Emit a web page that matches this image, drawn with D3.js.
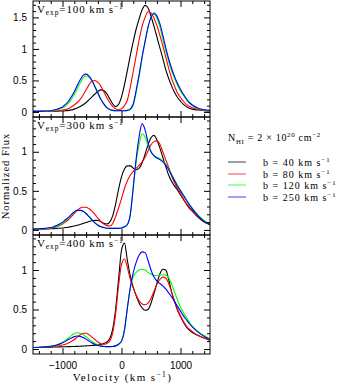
<!DOCTYPE html>
<html>
<head>
<meta charset="utf-8">
<script src="https://cdn.jsdelivr.net/npm/d3@7"></script>
<style>
body { margin: 0; background: #fff; }
svg { display: block; }
</style>
</head>
<body>
<div id="chart"></div>
<script>
// velocity grid (km s^-1), shared by every curve
var velocity = [-1500, -1400, -1300,
    -1200, -1150, -1100, -1050, -1000,
    -950, -900, -850, -800, -750, -700, -650, -600, -550, -500,
    -450, -400, -350, -300, -250, -200, -150, -100, -50, 0,
    50, 100, 150, 200, 250, 300, 350, 400, 450, 500,
    550, 600, 650, 700, 750, 800, 850, 900, 950, 1000,
    1050, 1100, 1150, 1200,
    1300, 1400, 1500];

// Vexp = 100 km/s
var v100b40 = [0.01, 0.01, 0.01,
    0.01, 0.01, 0.012, 0.014, 0.016,
    0.02, 0.025, 0.033, 0.045, 0.062, 0.085, 0.115, 0.15, 0.195, 0.24,
    0.285, 0.325, 0.35, 0.34, 0.29, 0.21, 0.13, 0.085, 0.12, 0.24,
    0.43, 0.66, 0.9, 1.12, 1.32, 1.48, 1.62, 1.69, 1.65, 1.52,
    1.36, 1.19, 1.02, 0.85, 0.67, 0.53, 0.41, 0.31, 0.23, 0.17,
    0.12, 0.085, 0.06, 0.045,
    0.03, 0.02, 0.015];
var v100b80 = [0.01, 0.01, 0.01,
    0.01, 0.012, 0.015, 0.02, 0.03,
    0.04, 0.055, 0.08, 0.11, 0.15, 0.2, 0.27, 0.35, 0.43, 0.49,
    0.5, 0.47, 0.41, 0.32, 0.23, 0.15, 0.09, 0.05, 0.035, 0.05,
    0.1, 0.19, 0.4, 0.65, 0.9, 1.15, 1.36, 1.5, 1.59, 1.57,
    1.49, 1.37, 1.22, 1.05, 0.87, 0.69, 0.53, 0.41, 0.3, 0.23,
    0.17, 0.12, 0.09, 0.065,
    0.04, 0.025, 0.02];
var v100b120 = [0.01, 0.01, 0.012,
    0.015, 0.02, 0.03, 0.045, 0.065,
    0.095, 0.14, 0.2, 0.28, 0.37, 0.46, 0.54, 0.57, 0.55, 0.49,
    0.4, 0.3, 0.2, 0.12, 0.07, 0.04, 0.025, 0.02, 0.02, 0.02,
    0.02, 0.025, 0.04, 0.11, 0.32, 0.57, 0.86, 1.12, 1.34, 1.5,
    1.55, 1.49, 1.35, 1.16, 0.97, 0.8, 0.65, 0.53, 0.42, 0.33,
    0.26, 0.19, 0.14, 0.1,
    0.05, 0.03, 0.02];
var v100b250 = [0.01, 0.01, 0.015,
    0.02, 0.03, 0.04, 0.06, 0.08,
    0.12, 0.17, 0.24, 0.32, 0.42, 0.51, 0.58, 0.6, 0.57, 0.5,
    0.4, 0.3, 0.2, 0.13, 0.07, 0.04, 0.025, 0.02, 0.02, 0.02,
    0.02, 0.025, 0.05, 0.13, 0.35, 0.6, 0.88, 1.12, 1.35, 1.5,
    1.57, 1.52, 1.4, 1.22, 1.02, 0.84, 0.69, 0.56, 0.45, 0.36,
    0.28, 0.21, 0.15, 0.11,
    0.06, 0.035, 0.025];

// Vexp = 300 km/s
var v300b40 = [0.01, 0.01, 0.012,
    0.015, 0.017, 0.02, 0.022, 0.025,
    0.03, 0.035, 0.042, 0.05, 0.06, 0.07, 0.082, 0.095, 0.108, 0.117,
    0.122, 0.12, 0.105, 0.085, 0.075, 0.1, 0.18, 0.33, 0.52, 0.68,
    0.78, 0.82, 0.82, 0.79, 0.77, 0.79, 0.86, 0.97, 1.09, 1.18,
    1.21, 1.15, 1.05, 0.93, 0.81, 0.7, 0.62, 0.56, 0.51, 0.45,
    0.39, 0.33, 0.28, 0.24,
    0.16, 0.1, 0.065];
var v300b80 = [0.01, 0.012, 0.015,
    0.02, 0.03, 0.04, 0.055, 0.075,
    0.1, 0.13, 0.17, 0.21, 0.25, 0.28, 0.29, 0.29, 0.27, 0.24,
    0.2, 0.15, 0.11, 0.075, 0.055, 0.05, 0.08, 0.17, 0.28, 0.4,
    0.53, 0.63, 0.7, 0.75, 0.79, 0.83, 0.87, 0.93, 1.01, 1.09,
    1.13, 1.14, 1.1, 1.0, 0.9, 0.8, 0.69, 0.6, 0.53, 0.47,
    0.4, 0.34, 0.29, 0.25,
    0.17, 0.11, 0.07];
var v300b120 = [0.01, 0.012, 0.017,
    0.025, 0.033, 0.045, 0.063, 0.085,
    0.115, 0.15, 0.19, 0.225, 0.245, 0.25, 0.24, 0.21, 0.17, 0.13,
    0.09, 0.06, 0.04, 0.03, 0.022, 0.02, 0.02, 0.02, 0.02, 0.025,
    0.04, 0.07, 0.2, 0.55, 0.88, 1.1, 1.23, 1.19, 1.08, 1.0,
    0.95, 0.93, 0.91, 0.88, 0.84, 0.78, 0.71, 0.64, 0.57, 0.51,
    0.45, 0.39, 0.33, 0.28,
    0.19, 0.12, 0.075];
var v300b250 = [0.01, 0.015, 0.02,
    0.03, 0.04, 0.055, 0.075, 0.1,
    0.13, 0.16, 0.2, 0.23, 0.25, 0.25, 0.24, 0.21, 0.17, 0.13,
    0.09, 0.06, 0.04, 0.03, 0.022, 0.02, 0.02, 0.02, 0.02, 0.025,
    0.04, 0.07, 0.2, 0.55, 0.92, 1.2, 1.36, 1.28, 1.12, 1.0,
    0.95, 0.92, 0.9, 0.87, 0.83, 0.77, 0.7, 0.63, 0.56, 0.5,
    0.44, 0.38, 0.32, 0.27,
    0.18, 0.11, 0.07];

// Vexp = 400 km/s
var v400b40 = [0.02, 0.02, 0.022,
    0.024, 0.025, 0.026, 0.027, 0.028,
    0.029, 0.03, 0.031, 0.032, 0.034, 0.036, 0.038, 0.04, 0.042, 0.045,
    0.048, 0.052, 0.058, 0.07, 0.09, 0.13, 0.25, 0.5, 0.88, 1.25,
    1.34, 1.12, 0.92, 0.78, 0.67, 0.58, 0.52, 0.49, 0.5, 0.58,
    0.7, 0.83, 0.95, 1.01, 1.0, 0.88, 0.72, 0.6, 0.49, 0.41,
    0.34, 0.28, 0.24, 0.21,
    0.17, 0.14, 0.11];
var v400b80 = [0.02, 0.02, 0.025,
    0.03, 0.033, 0.037, 0.042, 0.05,
    0.06, 0.075, 0.095, 0.12, 0.15, 0.18, 0.2, 0.2, 0.18, 0.15,
    0.12, 0.09, 0.065, 0.06, 0.07, 0.1, 0.2, 0.44, 0.8, 1.07,
    1.14, 1.03, 0.88, 0.77, 0.68, 0.61, 0.57, 0.56, 0.58, 0.64,
    0.73, 0.82, 0.88, 0.91, 0.9, 0.83, 0.72, 0.6, 0.5, 0.42,
    0.35, 0.29, 0.25, 0.22,
    0.17, 0.14, 0.11];
var v400b120 = [0.02, 0.022, 0.027,
    0.035, 0.042, 0.052, 0.066, 0.085,
    0.11, 0.14, 0.17, 0.195, 0.205, 0.2, 0.18, 0.155, 0.125, 0.095,
    0.07, 0.052, 0.04, 0.034, 0.03, 0.03, 0.032, 0.04, 0.06, 0.1,
    0.24, 0.52, 0.78, 0.92, 0.97, 1.0, 1.01, 1.0, 0.97, 0.95,
    0.93, 0.93, 0.935, 0.94, 0.935, 0.9, 0.82, 0.72, 0.62, 0.53,
    0.46, 0.4, 0.34, 0.29,
    0.22, 0.17, 0.13];
var v400b250 = [0.02, 0.022, 0.027,
    0.035, 0.042, 0.05, 0.062, 0.078,
    0.097, 0.12, 0.14, 0.157, 0.165, 0.16, 0.145, 0.125, 0.1, 0.077,
    0.058, 0.045, 0.037, 0.032, 0.03, 0.03, 0.032, 0.04, 0.06, 0.1,
    0.24, 0.52, 0.78, 0.97, 1.1, 1.19, 1.23, 1.22, 1.12, 1.0,
    0.91, 0.86, 0.83, 0.8, 0.76, 0.71, 0.66, 0.6, 0.54, 0.48,
    0.42, 0.37, 0.32, 0.28,
    0.21, 0.16, 0.12];

var vexpValues = ["100", "300", "400"];
var bValues = ["40", "80", "120", "250"];
var lineColors = ["#000000", "#ff0000", "#00ff00", "#0000ff"];

var xMajor = [-1000, 0, 1000];
var xMinor = [-1400, -1200, -800, -600, -400, -200, 200, 400, 600, 800, 1200, 1400];
var yMajorTop = [0, 0.5, 1, 1.5];
var yMinorTop = [0.1, 0.2, 0.3, 0.4, 0.6, 0.7, 0.8, 0.9, 1.1, 1.2, 1.3, 1.4, 1.6, 1.7];
var yMajor = [0, 0.5, 1];
var yMinor = [0.1, 0.2, 0.3, 0.4, 0.6, 0.7, 0.8, 0.9, 1.1, 1.2, 1.3, 1.4];

var W = 340, H = 384;
var left = 33, right = 210;

var panels = [
    {top: 1, bottom: 117, domain: [-0.08, 1.76], major: yMajorTop, minor: yMinorTop,
        series: [v100b40, v100b80, v100b120, v100b250]},
    {top: 117, bottom: 235, domain: [-0.065, 1.445], major: yMajor, minor: yMinor,
        series: [v300b40, v300b80, v300b120, v300b250]},
    {top: 235, bottom: 354, domain: [-0.063, 1.443], major: yMajor, minor: yMinor,
        series: [v400b40, v400b80, v400b120, v400b250]}
];

var serif = "'Liberation Serif', 'Times New Roman', serif";
var sans = "'Liberation Sans', Arial, sans-serif";

var svg = d3.select("#chart").append("svg")
    .attr("width", W)
    .attr("height", H);

var x = d3.scaleLinear().domain([-1500, 1500]).range([left, right]);

// write text with sub/superscript parts: [text, shift], shift>0 goes down
function rich(t, parts) {
    var prev = 0;
    parts.forEach(function (p) {
        var shift = p[1] || 0;
        var span = t.append("tspan").text(p[0]).attr("dy", shift - prev);
        if (shift != 0) span.attr("font-size", "68%");
        prev = shift;
    });
}

function strip(g) {
    g.select(".domain").remove();
    g.selectAll("line").attr("stroke", "#000").attr("stroke-width", 1);
    g.selectAll("text").attr("font-family", sans).attr("font-size", 10).attr("fill", "#000");
}

panels.forEach(function (p, i) {
    var y = d3.scaleLinear().domain(p.domain).range([p.bottom, p.top]);
    var g = svg.append("g");

    var clipId = "clip" + i;
    svg.append("clipPath").attr("id", clipId)
        .append("rect")
        .attr("x", left).attr("y", p.top)
        .attr("width", right - left).attr("height", p.bottom - p.top);

    // curves
    var line = d3.line()
        .x(function (d, k) { return x(velocity[k]); })
        .y(function (d) { return y(d); })
        .curve(d3.curveMonotoneX);

    g.append("g").attr("clip-path", "url(#" + clipId + ")")
        .selectAll("path")
        .data(p.series)
        .enter()
        .append("path")
        .attr("d", line)
        .attr("fill", "none")
        .attr("stroke", function (d, k) { return lineColors[k]; })
        .attr("stroke-width", 1.1);

    // y ticks, left side with labels
    g.append("g").attr("transform", "translate(" + left + ",0)")
        .call(d3.axisLeft(y).tickValues(p.major).tickSize(-6).tickPadding(6)
            .tickFormat(d3.format("")))
        .call(strip);
    g.append("g").attr("transform", "translate(" + left + ",0)")
        .call(d3.axisLeft(y).tickValues(p.minor).tickSize(-3).tickFormat(""))
        .call(strip);
    // right side
    g.append("g").attr("transform", "translate(" + right + ",0)")
        .call(d3.axisRight(y).tickValues(p.major).tickSize(-6).tickFormat(""))
        .call(strip);
    g.append("g").attr("transform", "translate(" + right + ",0)")
        .call(d3.axisRight(y).tickValues(p.minor).tickSize(-3).tickFormat(""))
        .call(strip);

    // x ticks on top and bottom of the panel
    g.append("g").attr("transform", "translate(0," + p.top + ")")
        .call(d3.axisTop(x).tickValues(xMajor).tickSize(-6).tickFormat(""))
        .call(strip);
    g.append("g").attr("transform", "translate(0," + p.top + ")")
        .call(d3.axisTop(x).tickValues(xMinor).tickSize(-3).tickFormat(""))
        .call(strip);
    var bottomAxis = d3.axisBottom(x).tickValues(xMajor).tickSize(-6).tickPadding(8);
    if (i < panels.length - 1) bottomAxis.tickFormat("");
    else bottomAxis.tickFormat(d3.format(""));
    g.append("g").attr("transform", "translate(0," + p.bottom + ")")
        .call(bottomAxis)
        .call(strip);
    g.append("g").attr("transform", "translate(0," + p.bottom + ")")
        .call(d3.axisBottom(x).tickValues(xMinor).tickSize(-3).tickFormat(""))
        .call(strip);

    // frame
    g.append("rect")
        .attr("x", left).attr("y", p.top)
        .attr("width", right - left).attr("height", p.bottom - p.top)
        .attr("fill", "none")
        .attr("stroke", "#000")
        .attr("stroke-width", 1);

    // panel label
    var t = g.append("text")
        .attr("x", left + 4)
        .attr("y", p.top + 11.5)
        .attr("font-family", serif)
        .attr("font-size", 11)
        .attr("letter-spacing", 0.9)
        .attr("fill", "#000");
    rich(t, [["V"], ["exp", 2.5], ["=" + vexpValues[i] + " km s"], ["\u22121", -4]]);
});

// axis titles
var xt = svg.append("text")
    .attr("x", x(0) + 1)
    .attr("y", 381)
    .attr("text-anchor", "middle")
    .attr("font-family", serif)
    .attr("font-size", 11)
    .attr("letter-spacing", 1.4)
    .attr("fill", "#000");
rich(xt, [["Velocity (km s"], ["\u22121", -4], [")", 0]]);

svg.append("text")
    .attr("transform", "translate(9,176) rotate(-90)")
    .attr("text-anchor", "middle")
    .attr("font-family", serif)
    .attr("font-size", 10.5)
    .attr("letter-spacing", 1)
    .attr("fill", "#000")
    .text("Normalized Flux");

// legend
var nt = svg.append("text")
    .attr("x", 228)
    .attr("y", 141)
    .attr("font-family", serif)
    .attr("font-size", 10)
    .attr("letter-spacing", 0.7)
    .attr("fill", "#000");
rich(nt, [["N"], ["HI", 2.5], [" = 2 \u00d7 10", 0], ["20", -4], [" cm", 0], ["\u22122", -4]]);

var legend = svg.append("g");
bValues.forEach(function (b, k) {
    var ly = Math.round(162 + k * 11.5);
    legend.append("line")
        .attr("x1", 228).attr("x2", 246)
        .attr("y1", ly).attr("y2", ly)
        .attr("stroke", lineColors[k])
        .attr("stroke-opacity", 0.75)
        .attr("stroke-width", 1);
    var lt = legend.append("text")
        .attr("x", 263)
        .attr("y", ly + 3.5)
        .attr("font-family", serif)
        .attr("font-size", 10)
        .attr("letter-spacing", 1)
        .attr("fill", "#000");
    rich(lt, [["b = " + b + " km s"], ["\u22121", -4]]);
});
</script>
</body>
</html>
